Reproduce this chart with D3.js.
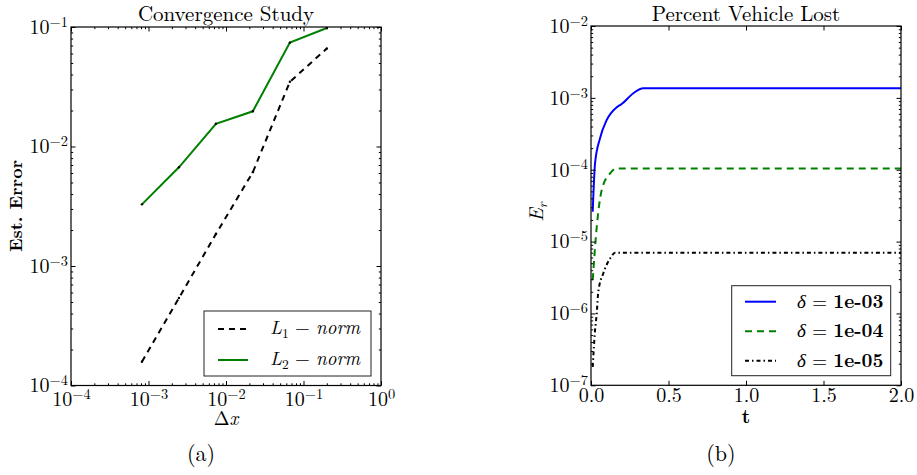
<!DOCTYPE html>
<html>
<head>
<meta charset="utf-8">
<script src="https://cdn.jsdelivr.net/npm/d3@7"></script>
<style>
  body { margin: 0; background: #fff; }
</style>
</head>
<body>
<svg id="chart" width="917" height="475"></svg>
<script>
// ---- data: (a) convergence study ----
var dx = [8.23e-4, 2.47e-3, 7.41e-3, 2.22e-2, 6.67e-2, 0.2];
var errL1 = [1.58e-4, 5.4e-4, 1.85e-3, 6.1e-3, 3.48e-2, 6.6e-2];
var errL2 = [3.28e-3, 6.7e-3, 1.55e-2, 1.97e-2, 7.4e-2, 9.8e-2];
var normLabels = ["1", "2"];

// ---- data: (b) percent vehicle lost ----
var tBlue = [0.011, 0.026, 0.058, 0.101, 0.166, 0.198, 0.273, 0.338, 2.0];
var eBlue = [2.6e-5, 1.22e-4, 2.73e-4, 4.9e-4, 7.4e-4, 8.2e-4, 1.16e-3, 1.36e-3, 1.36e-3];
var tGreen = [0.011, 0.037, 0.069, 0.123, 0.166, 2.0];
var eGreen = [2.9e-6, 1.6e-5, 5.2e-5, 8.9e-5, 1.04e-4, 1.04e-4];
var tBlack = [0.011, 0.026, 0.037, 0.047, 0.079, 0.123, 0.155, 2.0];
var eBlack = [1.8e-7, 5.8e-7, 1.0e-6, 2.0e-6, 3.6e-6, 5.8e-6, 6.97e-6, 6.97e-6];
var deltaLabels = ["1e-03", "1e-04", "1e-05"];
var tTicks = [0, 0.5, 1.0, 1.5, 2.0];

var FONT = "'Latin Modern Roman', 'Liberation Serif', serif";
var svg = d3.select("#chart");

function minorLog(lo, hi) {
  var out = [];
  for (var e = lo; e < hi; e++)
    for (var k = 2; k <= 9; k++) out.push(k * Math.pow(10, e));
  return out;
}
function decades(lo, hi) {
  var out = [];
  for (var e = lo; e <= hi; e++) out.push(Math.pow(10, e));
  return out;
}
function powLabel(sel) {
  sel.selectAll(".tick text").each(function(d) {
    var t = d3.select(this);
    var ex = Math.round(Math.log10(d));
    t.text(null);
    t.append("tspan").text("10");
    t.append("tspan").attr("dy", "-0.5em").attr("font-size", "0.72em")
      .text(ex < 0 ? "\u2212" + (-ex) : ex);
  });
}
function styleAxis(g) {
  g.select(".domain").remove();
  g.attr("font-family", null).attr("font-size", 20);
  g.selectAll(".tick line").attr("stroke", "#000");
}

function frame(g, x, y, xMaj, xMin, yMaj, yMin, xLog) {
  var x0 = x.range()[0], x1 = x.range()[1], y0 = y.range()[0], y1 = y.range()[1];
  var pieces = [
    [d3.axisBottom(x), "translate(0," + y0 + ")"],
    [d3.axisTop(x), "translate(0," + y1 + ")"]
  ];
  pieces.forEach(function(p, i) {
    var a = g.append("g").attr("transform", p[1])
      .call(p[0].tickValues(xMaj).tickSize(-4.5).tickPadding(i === 0 ? (xLog ? 6.5 : 2.5) : 0)
        .tickFormat(i === 0 ? (xLog ? d3.format("") : d3.format(".1f")) : ""));
    styleAxis(a);
    if (i === 0 && xLog) powLabel(a);
    if (xMin.length) {
      var m = g.append("g").attr("transform", p[1])
        .call((i === 0 ? d3.axisBottom(x) : d3.axisTop(x)).tickValues(xMin).tickSize(-2.2).tickFormat(""));
      styleAxis(m);
    }
  });
  var ypieces = [
    [d3.axisLeft(y), "translate(" + x0 + ",0)"],
    [d3.axisRight(y), "translate(" + x1 + ",0)"]
  ];
  ypieces.forEach(function(p, i) {
    var a = g.append("g").attr("transform", p[1])
      .call(p[0].tickValues(yMaj).tickSize(-4.5).tickPadding(i === 0 ? 3 : 0)
        .tickFormat(i === 0 ? d3.format("") : ""));
    styleAxis(a);
    if (i === 0) powLabel(a);
    var m = g.append("g").attr("transform", p[1])
      .call((i === 0 ? d3.axisLeft(y) : d3.axisRight(y)).tickValues(yMin).tickSize(-2.2).tickFormat(""));
    styleAxis(m);
  });
  g.append("rect").attr("x", x0).attr("y", y1).attr("width", x1 - x0).attr("height", y0 - y1)
    .attr("fill", "none").attr("stroke", "#000").attr("stroke-width", 1.2);
}

// ================= (a) =================
var gA = svg.append("g");
var xA = d3.scaleLog().domain([1e-4, 1]).range([71, 381]);
var yA = d3.scaleLog().domain([1e-4, 1e-1]).range([385.5, 27]);

var lineA = d3.line().x(function(d) { return xA(d[0]); }).y(function(d) { return yA(d[1]); });
var l1 = d3.zip(dx, errL1), l2 = d3.zip(dx, errL2);

gA.append("path").datum(l1).attr("d", lineA).attr("fill", "none")
  .attr("stroke", "#000").attr("stroke-width", 2).attr("stroke-dasharray", "6,5");
gA.append("path").datum(l2).attr("d", lineA).attr("fill", "none")
  .attr("stroke", "#008000").attr("stroke-width", 2);
gA.selectAll(".dotA").data(l1.concat(l2)).enter().append("circle")
  .attr("cx", function(d) { return xA(d[0]); }).attr("cy", function(d) { return yA(d[1]); })
  .attr("r", 1.2).attr("fill", "#000");

frame(gA, xA, yA, decades(-4, 0), minorLog(-4, 0), decades(-4, -1), minorLog(-4, -1), true);

gA.append("text").attr("x", 226).attr("y", 21).attr("text-anchor", "middle")
  .attr("font-size", 21).text("Convergence Study");
gA.append("text").attr("transform", "translate(22,206) rotate(-90)").attr("text-anchor", "middle")
  .attr("font-size", 18).attr("font-weight", "bold").text("Est. Error");
var dxl = gA.append("text").attr("x", 226).attr("y", 425).attr("text-anchor", "middle").attr("font-size", 19);
dxl.append("tspan").text("\u0394");
dxl.append("tspan").attr("font-style", "italic").text("x");
gA.append("text").attr("x", 201).attr("y", 461).attr("text-anchor", "middle").attr("font-size", 22).text("(a)");

// legend (a)
var legA = gA.append("g");
legA.append("rect").attr("x", 204).attr("y", 311).attr("width", 167).attr("height", 65)
  .attr("fill", "#fff").attr("stroke", "#222").attr("stroke-width", 1);
var legAStyles = [
  { stroke: "#000", dash: "6,5" },
  { stroke: "#008000", dash: null }
];
normLabels.forEach(function(n, i) {
  var yy = 329 + i * 31;
  legA.append("line").attr("x1", 218).attr("x2", 248).attr("y1", yy).attr("y2", yy)
    .attr("stroke", legAStyles[i].stroke).attr("stroke-width", 2)
    .attr("stroke-dasharray", legAStyles[i].dash);
  var t = legA.append("text").attr("x", 270).attr("y", yy + 5).attr("font-size", 19);
  t.append("tspan").attr("font-style", "italic").text("L");
  t.append("tspan").attr("font-size", 13.5).attr("dy", 4).text(n);
  t.append("tspan").attr("dy", -4).text(" \u2212 ");
  t.append("tspan").attr("font-style", "italic").text("norm");
});

// ================= (b) =================
var gB = svg.append("g");
var xB = d3.scaleLinear().domain([0, 2]).range([591, 901]);
var yB = d3.scaleLog().domain([1e-7, 1e-2]).range([385.3, 26]);

var lineB = d3.line().curve(d3.curveMonotoneX)
  .x(function(d) { return xB(d[0]); }).y(function(d) { return yB(d[1]); });
var seriesB = [
  { d: d3.zip(tBlack, eBlack), stroke: "#000", dash: "4,3,1.5,3" },
  { d: d3.zip(tGreen, eGreen), stroke: "#008000", dash: "7,5" },
  { d: d3.zip(tBlue, eBlue), stroke: "#0000ff", dash: null }
];
seriesB.forEach(function(s) {
  gB.append("path").datum(s.d).attr("d", lineB).attr("fill", "none")
    .attr("stroke", s.stroke).attr("stroke-width", 2).attr("stroke-dasharray", s.dash);
});

frame(gB, xB, yB, tTicks, [], decades(-7, -2), minorLog(-7, -2), false);

gB.append("text").attr("x", 746).attr("y", 21).attr("text-anchor", "middle")
  .attr("font-size", 21).text("Percent Vehicle Lost");
var er = gB.append("text").attr("transform", "translate(543,212) rotate(-90)")
  .attr("text-anchor", "middle").attr("font-size", 20);
er.append("tspan").attr("font-style", "italic").text("E");
er.append("tspan").attr("font-style", "italic").attr("font-size", 14).attr("dy", 4).text("r");
gB.append("text").attr("x", 746).attr("y", 423).attr("text-anchor", "middle")
  .attr("font-size", 19).attr("font-weight", "bold").text("t");
gB.append("text").attr("x", 721).attr("y", 461).attr("text-anchor", "middle").attr("font-size", 22).text("(b)");

// legend (b)
var legB = gB.append("g");
legB.append("rect").attr("x", 731.7).attr("y", 285.7).attr("width", 159).attr("height", 90)
  .attr("fill", "#fff").attr("stroke", "#222").attr("stroke-width", 1);
var legBStyles = [seriesB[2], seriesB[1], seriesB[0]];
deltaLabels.forEach(function(lab, i) {
  var yy = 301.7 + i * 29.5;
  legB.append("line").attr("x1", 745).attr("x2", 776).attr("y1", yy).attr("y2", yy)
    .attr("stroke", legBStyles[i].stroke).attr("stroke-width", 2)
    .attr("stroke-dasharray", legBStyles[i].dash);
  var t = legB.append("text").attr("x", 797).attr("y", yy + 6).attr("font-size", 19);
  t.append("tspan").attr("font-style", "italic").text("\u03b4");
  t.append("tspan").text(" = ");
  t.append("tspan").attr("font-weight", "bold").text(lab);
});

svg.selectAll("text").style("font-family", FONT).style("fill", "#000");
</script>
</body>
</html>
